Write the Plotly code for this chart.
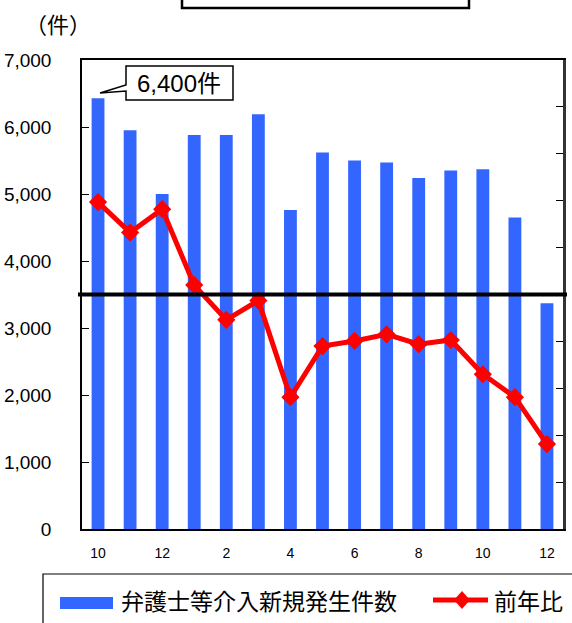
import plotly.graph_objects as go

months = ["10", "11", "12", "1", "2", "3", "4", "5", "6", "7", "8", "9", "10", "11", "12"]
cases = [6430, 5950, 5000, 5880, 5880, 6190, 4760, 5620, 5500, 5470, 5240, 5350, 5370, 4650, 3370]
yoy = [119.7, 113.2, 118.2, 102.0, 94.6, 98.7, 78.1, 89.0, 90.1, 91.5, 89.4, 90.3, 83.0, 78.1, 68.1]
y_ticks = [0, 1000, 2000, 3000, 4000, 5000, 6000, 7000]
bar_name = "弁護士等介入新規発生件数"
line_name = "前年比"
callout_text = "6,400件"
unit_text = "（件）"

x = list(range(len(months)))
tickvals = x[::2]
ticktext = months[::2]

BLUE = "#3366FF"
RED = "#FF0000"
FONT = "Liberation Sans, Noto Sans CJK JP, sans-serif"

fig = go.Figure()
fig.add_trace(go.Bar(x=x, y=cases, name=bar_name, marker=dict(color=BLUE, line=dict(width=0)),
                     width=0.4, showlegend=False))
fig.add_trace(go.Scatter(x=x, y=yoy, name=line_name, yaxis="y2", mode="lines+markers",
                         line=dict(color=RED, width=5),
                         marker=dict(symbol="diamond", size=14, color=RED),
                         showlegend=False))

L, R, T, B = 82, 9, 60, 94
W, H = 572, 623
pw, ph = W - L - R, H - T - B

def px(xp):
    return (xp - L) / pw

def py(yp):
    return (H - B - yp) / ph

shapes = []
# reference line at 100%
shapes.append(dict(type="line", xref="paper", yref="y2", x0=px(78), x1=px(567), y0=100, y1=100,
                   line=dict(color="black", width=4), layer="above"))
# top empty title box
shapes.append(dict(type="rect", xref="paper", yref="paper", x0=px(182), x1=px(469), y0=py(8), y1=py(-30),
                   line=dict(color="black", width=2.5), fillcolor="white"))
# callout box
path = "M {0},{1} L {2},{1} L {2},{3} L {0},{3} L {0},{4} L {5},{6} L {0},{7} Z".format(
    px(126), py(66), px(233), py(100), py(91), px(100), py(93), py(85))
shapes.append(dict(type="path", xref="paper", yref="paper", path=path,
                   line=dict(color="black", width=1.5), fillcolor="white", layer="above"))
# legend border
shapes.append(dict(type="rect", xref="paper", yref="paper", x0=px(43), x1=px(590), y0=py(574), y1=py(640),
                   line=dict(color="black", width=1.2), fillcolor="white"))
# legend bar symbol
shapes.append(dict(type="rect", xref="paper", yref="paper", x0=px(60), x1=px(113), y0=py(597), y1=py(609),
                   line=dict(width=0), fillcolor=BLUE))
# legend line symbol
shapes.append(dict(type="line", xref="paper", yref="paper", x0=px(433), x1=px(488), y0=py(600), y1=py(600),
                   line=dict(color=RED, width=5)))
dpath = "M {0},{1} L {2},{3} L {0},{4} L {5},{3} Z".format(px(462), py(591), px(470), py(600), py(609), px(454))
shapes.append(dict(type="path", xref="paper", yref="paper", path=dpath,
                   line=dict(width=0), fillcolor=RED))

annotations = [
    dict(text=unit_text, xref="paper", yref="paper", x=px(58), y=py(25), showarrow=False,
         xanchor="center", yanchor="middle", font=dict(size=22, color="black", family=FONT)),
    dict(text=callout_text, xref="paper", yref="paper", x=px(178.5), y=py(83), showarrow=False,
         xanchor="center", yanchor="middle", font=dict(size=24, color="black", family=FONT)),
    dict(text=bar_name, xref="paper", yref="paper", x=px(119), y=py(602), showarrow=False,
         xanchor="left", yanchor="middle", font=dict(size=23, color="black", family=FONT)),
    dict(text=line_name, xref="paper", yref="paper", x=px(492), y=py(602), showarrow=False,
         xanchor="left", yanchor="middle", font=dict(size=23, color="black", family=FONT)),
]

fig.update_layout(
    width=W, height=H,
    margin=dict(l=L, r=R, t=T, b=B, pad=0, autoexpand=False),
    paper_bgcolor="white", plot_bgcolor="white",
    font=dict(family=FONT, color="black"),
    xaxis=dict(range=[-0.5, len(months) - 0.5], tickvals=tickvals, ticktext=ticktext,
               showline=True, linecolor="black", linewidth=1.5, mirror=True, ticks="",
               showgrid=False, zeroline=False, tickfont=dict(size=14), ticklabelstandoff=10,
               automargin=False),
    yaxis=dict(range=[0, 7000], tickvals=y_ticks, tickformat=",d",
               showline=True, linecolor="black", linewidth=1.5, ticks="inside", ticklen=7,
               tickcolor="black", showgrid=False, zeroline=False,
               tickfont=dict(size=19), ticklabelstandoff=25, automargin=False),
    yaxis2=dict(range=[50, 150], dtick=10, overlaying="y", side="right",
                showline=True, linecolor="#333333", linewidth=2.5, ticks="inside", ticklen=7,
                tickcolor="black", showticklabels=False, showgrid=False, zeroline=False,
                automargin=False),
    shapes=shapes,
    annotations=annotations,
    showlegend=False,
)

fig.write_html("out.html", config={"displayModeBar": False},
               post_script="document.body.style.margin='0';document.body.style.overflow='hidden';")
